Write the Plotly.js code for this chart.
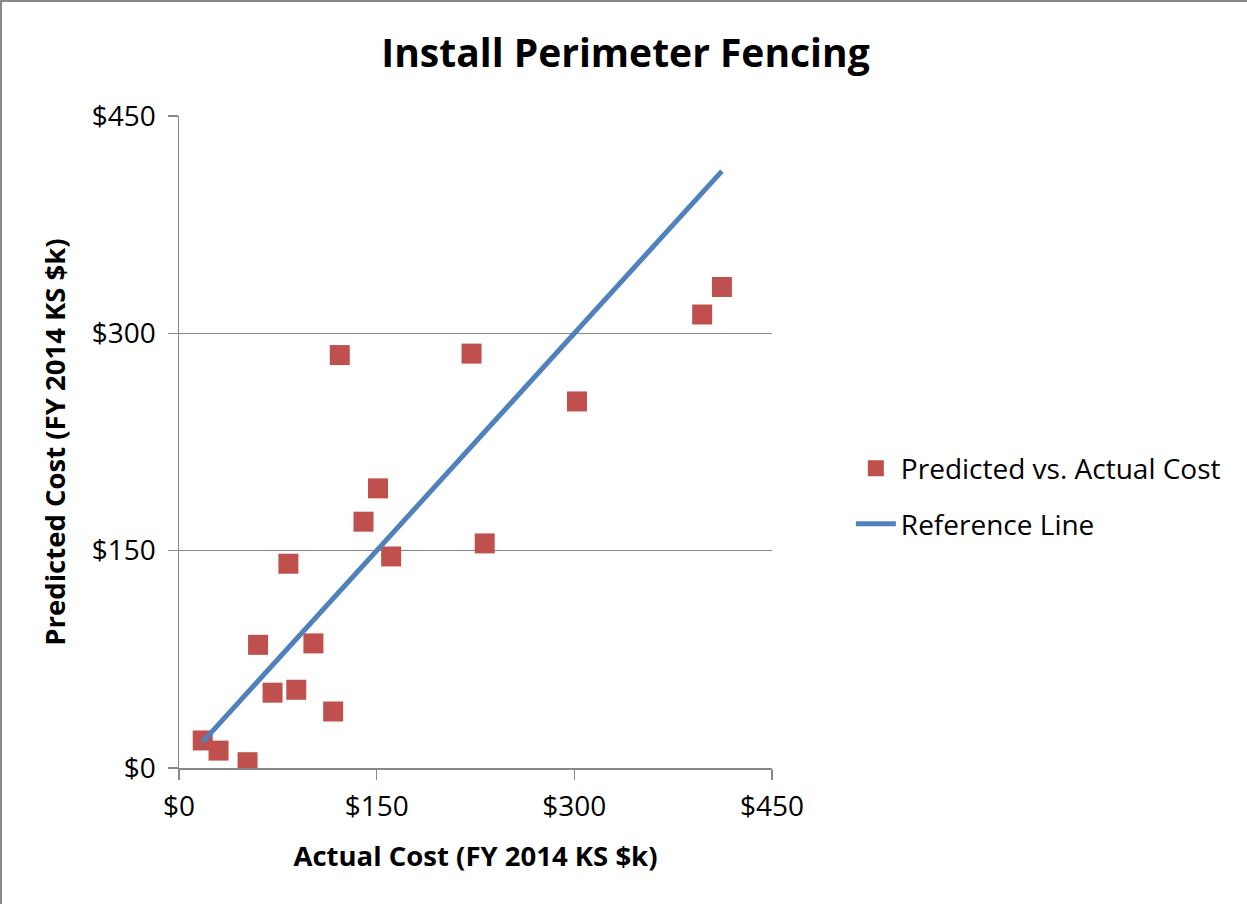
<!DOCTYPE html>
<html>
<head>
<meta charset="utf-8">
<script src="https://cdn.plot.ly/plotly-3.0.1.min.js"></script>
<style>
  html, body { margin: 0; padding: 0; background: #fff; }
  #chart { width: 1247px; height: 904px; box-sizing: border-box; border-left: 2px solid #888; border-top: 2px solid #888; }
</style>
</head>
<body>
<div id="chart"></div>
<script>
const actualCost = [18, 30, 52, 60, 71, 83, 89, 102, 117, 122, 140, 151, 161, 222, 232, 302, 397, 412];
const predictedCost = [19, 12, 4, 85, 52, 141, 54, 86, 39, 285, 170, 193, 146, 286, 155, 253, 313, 332];
const tickValues = [0, 150, 300, 450];
const tickLabels = ['$0', '$150', '$300', '$450'];

const refMin = Math.min(...actualCost);
const refMax = Math.max(...actualCost);
const refLineX = [refMin, refMax];
const refLineY = [refMin, refMax];

const font = "'Open Sans', Lato, sans-serif";

const traces = [
  {
    x: actualCost, y: predictedCost, type: 'scatter', mode: 'markers',
    name: 'Predicted vs. Actual Cost', legendgroup: 'a',
    marker: { symbol: 'square', size: 20, color: '#C0504D', line: { width: 0 } }
  },
  {
    x: refLineX, y: refLineY, type: 'scatter', mode: 'lines',
    name: 'Reference Line', legendgroup: 'b',
    line: { color: '#4F81BD', width: 5 }
  }
];

const axisCommon = {
  range: [0, 450], tickvals: tickValues, ticktext: tickLabels,
  showline: true, linecolor: '#888', linewidth: 1.5,
  ticks: 'outside', ticklen: 10, tickcolor: '#888', tickwidth: 1.5,
  tickfont: { family: font, size: 28, color: '#000' },
  zeroline: false, fixedrange: true
};

const layout = {
  width: 1247, height: 904,
  margin: { l: 177, r: 477, t: 114, b: 138 },
  paper_bgcolor: '#fff', plot_bgcolor: '#fff',
  title: { text: '<b>Install Perimeter Fencing</b>', x: 0.5, xref: 'container', xanchor: 'center',
           y: 0.943, yref: 'container', yanchor: 'middle',
           font: { family: font, size: 39, color: '#000' } },
  xaxis: Object.assign({}, axisCommon, {
    showgrid: false, ticklabelstandoff: 3,
    title: { text: '<b>Actual Cost (FY 2014 KS $k)</b>', font: { family: font, size: 27.5, color: '#000' }, standoff: 23 }
  }),
  yaxis: Object.assign({}, axisCommon, {
    showgrid: true, gridcolor: '#888', gridwidth: 1.5, ticklabelstandoff: 6,
    title: { text: '<b>Predicted Cost (FY 2014 KS $k)</b>', font: { family: font, size: 27.5, color: '#000' }, standoff: 18 }
  }),
  showlegend: true,
  legend: {
    x: 1.133, xanchor: 'left', y: 0.417, yanchor: 'middle',
    font: { family: font, size: 28, color: '#000' },
    traceorder: 'grouped', tracegroupgap: 16, itemwidth: 40
  }
};

Plotly.newPlot('chart', traces, layout, { displayModeBar: false, staticPlot: true });
</script>
</body>
</html>
